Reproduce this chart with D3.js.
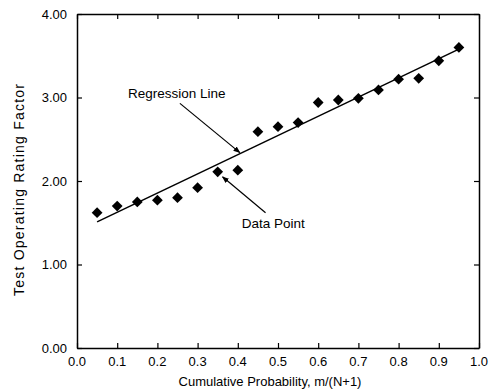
<!DOCTYPE html>
<html>
<head>
<meta charset="utf-8">
<script src="https://cdn.jsdelivr.net/npm/d3@7/dist/d3.min.js"></script>
<style>
  html, body { margin: 0; padding: 0; background: #fff; }
  svg { display: block; }
</style>
</head>
<body>
<svg id="chart" width="497" height="390"></svg>
<script>
// ─── Data ────────────────────────────────────────────────────────────
const probabilities = [0.05, 0.10, 0.15, 0.20, 0.25, 0.30, 0.35, 0.40, 0.45, 0.50,
                       0.55, 0.60, 0.65, 0.70, 0.75, 0.80, 0.85, 0.90, 0.95];
const ratingFactors = [1.62, 1.70, 1.75, 1.77, 1.80, 1.92, 2.11, 2.13, 2.59, 2.65,
                       2.70, 2.94, 2.97, 2.99, 3.09, 3.22, 3.23, 3.44, 3.60];
const regressionX = [0.05, 0.95];
const regressionY = [1.51, 3.58];
const xTicks = [0, 0.1, 0.2, 0.3, 0.4, 0.5, 0.6, 0.7, 0.8, 0.9, 1.0];
const yTicks = [0, 1, 2, 3, 4];

// ─── Layout ──────────────────────────────────────────────────────────
const width = 497, height = 390;
const margin = { top: 14, right: 18, bottom: 42, left: 77 };
const plotW = width - margin.left - margin.right;
const plotH = height - margin.top - margin.bottom;
const font = "'Liberation Sans', Arial, Helvetica, sans-serif";

const svg = d3.select("#chart");

const x = d3.scaleLinear().domain([0, 1]).range([0, plotW]);
const y = d3.scaleLinear().domain([0, 4]).range([plotH, 0]);

const g = svg.append("g").attr("transform", `translate(${margin.left},${margin.top})`);

// ─── Arrow marker ────────────────────────────────────────────────────
svg.append("defs").append("marker")
  .attr("id", "arrow")
  .attr("viewBox", "0 0 10 10")
  .attr("refX", 9).attr("refY", 5)
  .attr("markerWidth", 7).attr("markerHeight", 7)
  .attr("markerUnits", "userSpaceOnUse")
  .attr("orient", "auto")
  .append("path")
  .attr("d", "M0,1 L10,5 L0,9 Z")
  .attr("fill", "#000");

// ─── Axes (ticks inward on all four sides) ───────────────────────────
const tickLen = 5;
const styleAxis = (sel) => {
  sel.select(".domain").attr("stroke", "#000").attr("stroke-width", 1.5);
  sel.selectAll(".tick line").attr("stroke", "#000").attr("stroke-width", 1.2);
};

g.append("g")
  .attr("transform", `translate(0,${plotH})`)
  .call(d3.axisBottom(x).tickValues(xTicks).tickSize(-tickLen).tickSizeOuter(0).tickFormat(""))
  .call(styleAxis);
g.append("g")
  .call(d3.axisTop(x).tickValues(xTicks).tickSize(-tickLen).tickSizeOuter(0).tickFormat(""))
  .call(styleAxis);
g.append("g")
  .call(d3.axisLeft(y).tickValues(yTicks).tickSize(-tickLen).tickSizeOuter(0).tickFormat(""))
  .call(styleAxis);
g.append("g")
  .attr("transform", `translate(${plotW},0)`)
  .call(d3.axisRight(y).tickValues(yTicks).tickSize(-tickLen).tickSizeOuter(0).tickFormat(""))
  .call(styleAxis);

// tick labels
g.selectAll(".xlab")
  .data(xTicks)
  .join("text")
  .attr("x", (d) => x(d))
  .attr("y", plotH + 18)
  .attr("text-anchor", "middle")
  .attr("font-family", font)
  .attr("font-size", 13)
  .attr("fill", "#000")
  .text((d) => d3.format(".1f")(d));

g.selectAll(".ylab")
  .data(yTicks)
  .join("text")
  .attr("x", -10)
  .attr("y", (d) => y(d))
  .attr("dy", "0.35em")
  .attr("text-anchor", "end")
  .attr("font-family", font)
  .attr("font-size", 13)
  .attr("fill", "#000")
  .text((d) => d3.format(".2f")(d));

// axis titles
g.append("text")
  .attr("x", plotW / 2 - 8)
  .attr("y", plotH + 38)
  .attr("text-anchor", "middle")
  .attr("font-family", font)
  .attr("font-size", 13)
  .attr("fill", "#000")
  .text("Cumulative Probability, m/(N+1)");

svg.append("text")
  .attr("transform", `translate(24,${margin.top + plotH / 2 + 9}) rotate(-90)`)
  .attr("text-anchor", "middle")
  .attr("font-family", font)
  .attr("font-size", 14)
  .attr("textLength", 212)
  .attr("lengthAdjust", "spacing")
  .attr("fill", "#000")
  .text("Test Operating Rating Factor");

// ─── Regression line ─────────────────────────────────────────────────
const lineGen = d3.line().x((d) => x(d[0])).y((d) => y(d[1]));
g.append("path")
  .datum(d3.zip(regressionX, regressionY))
  .attr("fill", "none")
  .attr("stroke", "#000")
  .attr("stroke-width", 1.5)
  .attr("d", lineGen);

// ─── Data points (diamonds) ──────────────────────────────────────────
const diamond = d3.symbol().type(d3.symbolSquare).size(58);
g.selectAll(".pt")
  .data(d3.zip(probabilities, ratingFactors))
  .join("path")
  .attr("d", diamond)
  .attr("transform", (d) => `translate(${x(d[0])},${y(d[1])}) rotate(45)`)
  .attr("fill", "#000");

// ─── Annotations ─────────────────────────────────────────────────────
const annotations = [
  { label: "Regression Line", tx: 0.127, ty: 2.99, from: [0.256, 2.93], to: [0.405, 2.34] },
  { label: "Data Point", tx: 0.41, ty: 1.44, from: [0.469, 1.62], to: [0.362, 2.05] },
];

annotations.forEach((a) => {
  g.append("text")
    .attr("x", x(a.tx))
    .attr("y", y(a.ty))
    .attr("font-family", font)
    .attr("font-size", 13.5)
    .attr("fill", "#000")
    .text(a.label);
  g.append("line")
    .attr("x1", x(a.from[0])).attr("y1", y(a.from[1]))
    .attr("x2", x(a.to[0])).attr("y2", y(a.to[1]))
    .attr("stroke", "#000")
    .attr("stroke-width", 1.2)
    .attr("marker-end", "url(#arrow)");
});
</script>
</body>
</html>
